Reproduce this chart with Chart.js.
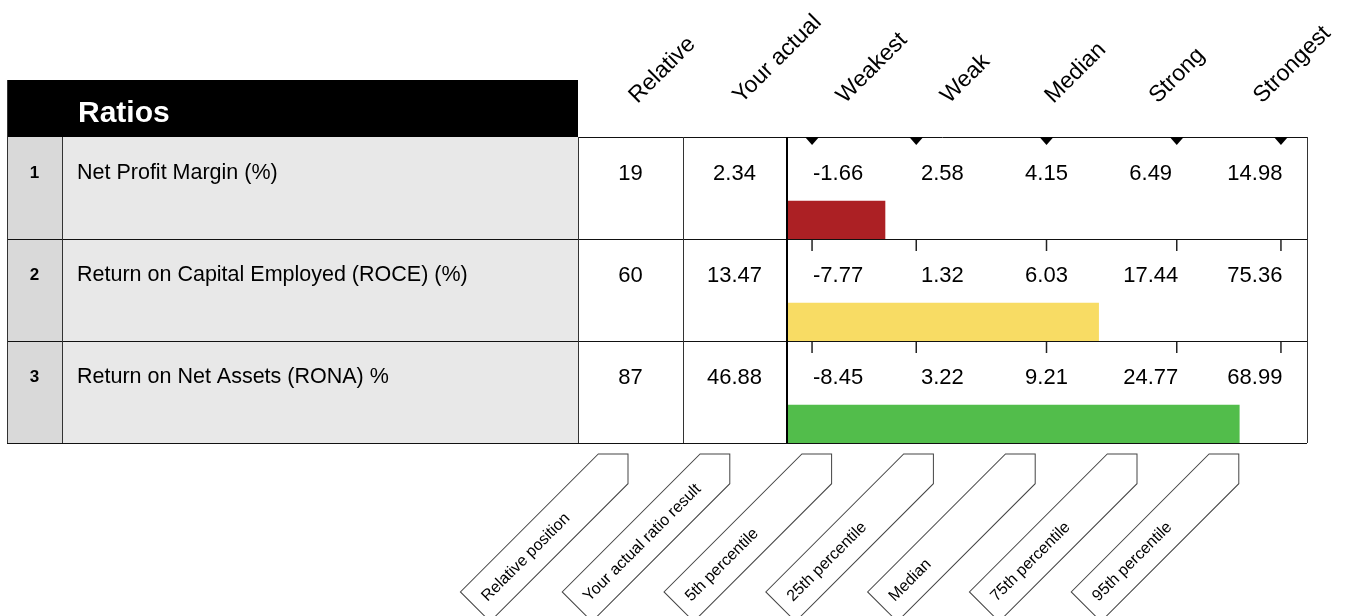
<!DOCTYPE html>
<html>
<head>
<meta charset="utf-8">
<script src="https://cdn.jsdelivr.net/npm/chart.js@4"></script>
<style>
  html, body { margin: 0; padding: 0; background: #fff; }
  #ratioChart { display: block; }
</style>
</head>
<body>
<canvas id="ratioChart" width="1351" height="616"></canvas>
<script>
// Data
const rowLabels = ['Net Profit Margin (%)', 'Return on Capital Employed (ROCE) (%)', 'Return on Net Assets (RONA) %'];
const relative = [19, 60, 87];
const actual = ['2.34', '13.47', '46.88'];
const pct5 = ['-1.66', '-7.77', '-8.45'];
const pct25 = ['2.58', '1.32', '3.22'];
const median = ['4.15', '6.03', '9.21'];
const pct75 = ['6.49', '17.44', '24.77'];
const pct95 = ['14.98', '75.36', '68.99'];
const percentileTicks = [5, 25, 50, 75, 95];
const headers = ['Relative', 'Your actual', 'Weakest', 'Weak', 'Median', 'Strong', 'Strongest'];
const tagLabels = ['Relative position', 'Your actual ratio result', '5th percentile', '25th percentile', 'Median', '75th percentile', '95th percentile'];
const barColors = ['#ac2024', '#f8dc64', '#52bd4b'];

// layout
const FONT = '"Liberation Sans", Arial, Helvetica, sans-serif';
const TABLE_LEFT = 7, INDEX_RIGHT = 62, LABEL_RIGHT = 578, REL_RIGHT = 683;
const HEADER_TOP = 80;
const BAR_H = 38;
const canvas = document.getElementById('ratioChart');

function hline(ctx, x1, x2, y) {
    ctx.beginPath();
    ctx.moveTo(x1, Math.round(y) + 0.5);
    ctx.lineTo(x2, Math.round(y) + 0.5);
    ctx.stroke();
}
function vline(ctx, x, y1, y2) {
    ctx.beginPath();
    ctx.moveTo(Math.round(x) + 0.5, y1);
    ctx.lineTo(Math.round(x) + 0.5, y2);
    ctx.stroke();
}

const tablePlugin = {
    id: 'tablePlugin',
    beforeDatasetsDraw(chart) {
        const ctx = chart.ctx;
        const area = chart.chartArea;
        const y = chart.scales.y;
        ctx.save();
        // header block
        ctx.fillStyle = '#000';
        ctx.fillRect(TABLE_LEFT, HEADER_TOP, LABEL_RIGHT - TABLE_LEFT, area.top - HEADER_TOP);
        rowLabels.forEach((lab, i) => {
            const top = y.getPixelForValue(i), bottom = y.getPixelForValue(i + 1);
            ctx.fillStyle = '#d9d9d9';
            ctx.fillRect(TABLE_LEFT, top, INDEX_RIGHT - TABLE_LEFT, bottom - top);
            ctx.fillStyle = '#e8e8e8';
            ctx.fillRect(INDEX_RIGHT, top, LABEL_RIGHT - INDEX_RIGHT, bottom - top);
        });
        ctx.restore();
    },
    afterDatasetsDraw(chart) {
        const ctx = chart.ctx;
        const area = chart.chartArea;
        const x = chart.scales.x, y = chart.scales.y;
        const colW = (area.right - area.left) / 5;
        const colCenters = [(LABEL_RIGHT + REL_RIGHT) / 2, (REL_RIGHT + area.left) / 2];
        for (let k = 0; k < 5; k++) colCenters.push(area.left + colW * (k + 0.5));
        const pctCols = [pct5, pct25, median, pct75, pct95];

        ctx.save();
        // title
        ctx.fillStyle = '#fff';
        ctx.font = 'bold 30px ' + FONT;
        ctx.textBaseline = 'middle';
        ctx.textAlign = 'left';
        ctx.fillText('Ratios', 78, 114);

        // rotated column headers
        ctx.fillStyle = '#000';
        ctx.font = '23px ' + FONT;
        ctx.textBaseline = 'alphabetic';
        headers.forEach((h, k) => {
            ctx.save();
            ctx.translate(colCenters[k] + 7, 104);
            ctx.rotate(-Math.PI / 4);
            ctx.fillText(h, 0, 0);
            ctx.restore();
        });

        // grid lines
        ctx.strokeStyle = '#111';
        ctx.lineWidth = 1;
        hline(ctx, LABEL_RIGHT, area.right, area.top);
        for (let i = 1; i <= rowLabels.length; i++) {
            hline(ctx, TABLE_LEFT, area.right, y.getPixelForValue(i));
        }
        ctx.strokeStyle = '#333';
        vline(ctx, TABLE_LEFT, HEADER_TOP, area.bottom);
        vline(ctx, INDEX_RIGHT, area.top, area.bottom);
        vline(ctx, LABEL_RIGHT, area.top, area.bottom);
        vline(ctx, REL_RIGHT, area.top, area.bottom);
        vline(ctx, area.right, area.top, area.bottom);
        ctx.strokeStyle = '#000';
        ctx.lineWidth = 2;
        ctx.beginPath();
        ctx.moveTo(area.left + 1, area.top);
        ctx.lineTo(area.left + 1, area.bottom);
        ctx.stroke();

        // row content
        rowLabels.forEach((lab, i) => {
            const top = y.getPixelForValue(i);
            const ty = top + 36;
            ctx.fillStyle = '#000';
            ctx.textBaseline = 'middle';
            ctx.textAlign = 'center';
            ctx.font = 'bold 17px ' + FONT;
            ctx.fillText(String(i + 1), (TABLE_LEFT + INDEX_RIGHT) / 2, ty);
            ctx.textAlign = 'left';
            ctx.font = '21.5px ' + FONT;
            ctx.fillText(lab, 77, ty);
            ctx.textAlign = 'center';
            ctx.font = '22px ' + FONT;
            ctx.fillText(String(relative[i]), colCenters[0], ty + 1);
            ctx.fillText(actual[i], colCenters[1], ty + 1);
            pctCols.forEach((col, k) => ctx.fillText(col[i], colCenters[k + 2], ty + 1));

            // percentile markers
            percentileTicks.forEach(p => {
                const px = x.getPixelForValue(p);
                if (i === 0) {
                    ctx.fillStyle = '#000';
                    ctx.beginPath();
                    ctx.moveTo(px - 7, top);
                    ctx.lineTo(px + 7, top);
                    ctx.lineTo(px, top + 8);
                    ctx.closePath();
                    ctx.fill();
                } else {
                    ctx.strokeStyle = '#222';
                    ctx.lineWidth = 1.5;
                    ctx.beginPath();
                    ctx.moveTo(px, top + 1);
                    ctx.lineTo(px, top + 12);
                    ctx.stroke();
                }
            });
        });

        // arrow tags below the table
        const TAG_W = 21, TAG_L = 216;
        ctx.font = '16px ' + FONT;
        ctx.textAlign = 'left';
        ctx.textBaseline = 'middle';
        tagLabels.forEach((t, k) => {
            ctx.save();
            ctx.translate(628 + 101.8 * k, 454);
            ctx.rotate(-Math.PI / 4);
            ctx.beginPath();
            ctx.moveTo(0, 0);
            ctx.lineTo(-TAG_W, TAG_W);
            ctx.lineTo(-TAG_L, TAG_W);
            ctx.lineTo(-TAG_L, -TAG_W);
            ctx.lineTo(-TAG_W, -TAG_W);
            ctx.closePath();
            ctx.fillStyle = '#fff';
            ctx.fill();
            ctx.strokeStyle = '#444';
            ctx.lineWidth = 1;
            ctx.stroke();
            ctx.fillStyle = '#000';
            ctx.fillText(t, -TAG_L + 12, 1);
            ctx.restore();
        });
        ctx.restore();
    }
};

const chartData = {
    datasets: [{
        label: 'Relative position',
        data: relative.map((v, i) => ({ x: v, y: i + 1 - BAR_H / 2 / 102 })),
        backgroundColor: barColors,
        borderWidth: 0,
        barThickness: BAR_H
    }]
};

const chartConfig = {
    type: 'bar',
    data: chartData,
    options: {
        indexAxis: 'y',
        responsive: false,
        animation: false,
        layout: { padding: { left: 786, right: 44, top: 137, bottom: 173 } },
        scales: {
            x: { type: 'linear', min: 0, max: 100, display: false },
            y: { type: 'linear', min: 0, max: 3, reverse: true, offset: false, display: false }
        },
        plugins: {
            legend: { display: false },
            tooltip: { enabled: false }
        }
    },
    plugins: [tablePlugin]
};

new Chart(canvas, chartConfig);
</script>
</body>
</html>
